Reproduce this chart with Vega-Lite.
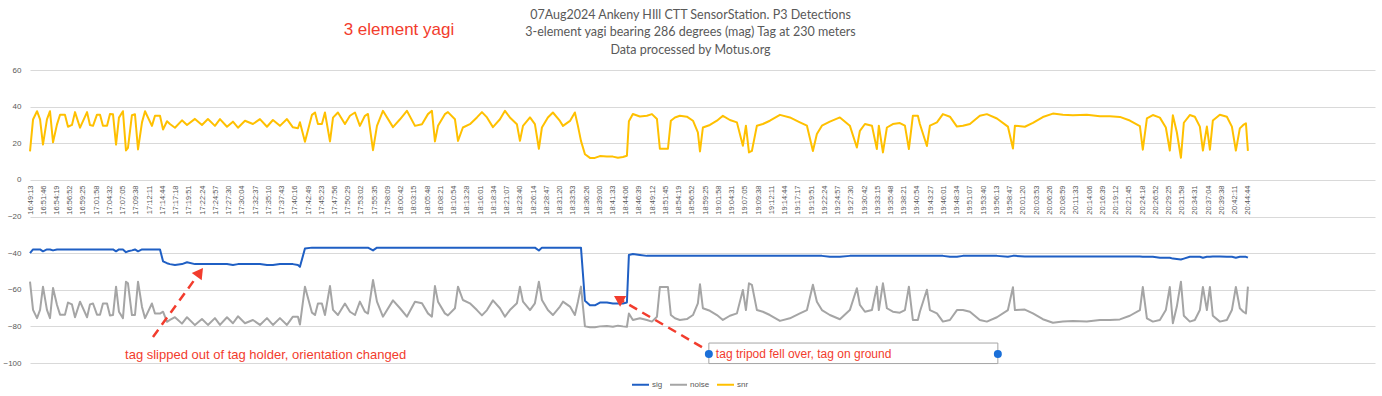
{
  "$schema": "https://vega.github.io/schema/vega-lite/v6.json",
  "width": 1345,
  "height": 293,
  "autosize": "none",
  "padding": {"left": 30, "top": 70, "right": 7, "bottom": 33},
  "background": "white",
  "title": {
    "text": ["07Aug2024 Ankeny HIll CTT SensorStation. P3 Detections", "3-element yagi bearing 286 degrees (mag) Tag at 230 meters", "Data processed by Motus.org"],
    "font": "Lato", "fontSize": 12.5, "fontWeight": "normal", "color": "#595959",
    "lineHeight": 17.5, "anchor": "middle", "frame": "group", "offset": 13, "dx": -12, "dy": 48
  },
  "config": {"view": {"stroke": null}},
  "datasets": {
    "det": [
      {"n":0,"sig":-40,"noise":-55.6,"snr":15.6},
      {"n":0.23,"sig":-38,"noise":-71,"snr":33},
      {"n":0.53,"sig":-38,"noise":-75.5,"snr":37.5},
      {"n":0.76,"sig":-38,"noise":-71,"snr":33},
      {"n":0.98,"sig":-39,"noise":-58.3,"snr":19.3},
      {"n":1.28,"sig":-38,"noise":-71,"snr":33},
      {"n":1.51,"sig":-38,"noise":-75.5,"snr":37.5},
      {"n":1.74,"sig":-38.5,"noise":-59,"snr":20.5},
      {"n":2.04,"sig":-38,"noise":-68.3,"snr":30.3},
      {"n":2.27,"sig":-38,"noise":-73.6,"snr":35.6},
      {"n":2.64,"sig":-38,"noise":-73.6,"snr":35.6},
      {"n":2.87,"sig":-38,"noise":-67,"snr":29},
      {"n":3.17,"sig":-38,"noise":-68,"snr":30},
      {"n":3.40,"sig":-38,"noise":-75,"snr":37},
      {"n":3.78,"sig":-38,"noise":-66.5,"snr":28.5},
      {"n":4.31,"sig":-38,"noise":-75,"snr":37},
      {"n":4.53,"sig":-38,"noise":-68,"snr":30},
      {"n":4.76,"sig":-38,"noise":-67.5,"snr":29.5},
      {"n":5.06,"sig":-38,"noise":-73.6,"snr":35.6},
      {"n":5.29,"sig":-38,"noise":-73.6,"snr":35.6},
      {"n":5.51,"sig":-38,"noise":-67.5,"snr":29.5},
      {"n":5.82,"sig":-38,"noise":-67.5,"snr":29.5},
      {"n":6.04,"sig":-38,"noise":-74,"snr":36},
      {"n":6.27,"sig":-38,"noise":-73.8,"snr":35.8},
      {"n":6.50,"sig":-39,"noise":-58.3,"snr":19.3},
      {"n":6.72,"sig":-38,"noise":-72,"snr":34},
      {"n":7.02,"sig":-38,"noise":-75.5,"snr":37.5},
      {"n":7.25,"sig":-39.5,"noise":-55.6,"snr":16.1},
      {"n":7.40,"sig":-39,"noise":-56.5,"snr":17.5},
      {"n":7.70,"sig":-38.5,"noise":-73.8,"snr":35.3},
      {"n":7.93,"sig":-38,"noise":-73.8,"snr":35.8},
      {"n":8.16,"sig":-39,"noise":-55.6,"snr":16.6},
      {"n":8.46,"sig":-38,"noise":-69.4,"snr":31.4},
      {"n":8.69,"sig":-38,"noise":-75.5,"snr":37.5},
      {"n":9.21,"sig":-38,"noise":-67.5,"snr":29.5},
      {"n":9.44,"sig":-38,"noise":-73,"snr":35},
      {"n":9.82,"sig":-38,"noise":-73,"snr":35},
      {"n":10.05,"sig":-44.5,"noise":-72,"snr":27.5},
      {"n":10.35,"sig":-45.5,"noise":-77.5,"snr":32},
      {"n":10.57,"sig":-46,"noise":-76.5,"snr":30.5},
      {"n":10.95,"sig":-46.5,"noise":-75,"snr":28.5},
      {"n":11.48,"sig":-46,"noise":-78.5,"snr":32.5},
      {"n":11.86,"sig":-45,"noise":-75,"snr":30},
      {"n":12.46,"sig":-46,"noise":-79.3,"snr":33.3},
      {"n":12.99,"sig":-46,"noise":-76,"snr":30},
      {"n":13.44,"sig":-46,"noise":-79.2,"snr":33.2},
      {"n":13.97,"sig":-46,"noise":-75.5,"snr":29.5},
      {"n":14.35,"sig":-46,"noise":-79.2,"snr":33.2},
      {"n":14.88,"sig":-46,"noise":-75,"snr":29},
      {"n":15.33,"sig":-46.5,"noise":-78.3,"snr":31.8},
      {"n":15.71,"sig":-46,"noise":-74.5,"snr":28.5},
      {"n":16.24,"sig":-46,"noise":-78.3,"snr":32.3},
      {"n":16.84,"sig":-46,"noise":-76.5,"snr":30.5},
      {"n":17.37,"sig":-46,"noise":-79.2,"snr":33.2},
      {"n":17.90,"sig":-46.5,"noise":-75.5,"snr":29},
      {"n":18.35,"sig":-46.5,"noise":-79.2,"snr":32.7},
      {"n":18.88,"sig":-46,"noise":-75.5,"snr":29.5},
      {"n":19.41,"sig":-46,"noise":-79.2,"snr":33.2},
      {"n":19.86,"sig":-46,"noise":-74.7,"snr":28.7},
      {"n":20.24,"sig":-46.5,"noise":-74.7,"snr":28.2},
      {"n":20.39,"sig":-47.5,"noise":-79,"snr":31.5},
      {"n":20.77,"sig":-37.5,"noise":-58.3,"snr":20.8},
      {"n":21.30,"sig":-37,"noise":-72.5,"snr":35.5},
      {"n":21.53,"sig":-37,"noise":-73.8,"snr":36.8},
      {"n":21.75,"sig":-37,"noise":-67.5,"snr":30.5},
      {"n":22.05,"sig":-37,"noise":-67.5,"snr":30.5},
      {"n":22.28,"sig":-37,"noise":-73.8,"snr":36.8},
      {"n":22.66,"sig":-37,"noise":-58,"snr":21},
      {"n":22.89,"sig":-37,"noise":-71,"snr":34},
      {"n":23.26,"sig":-37,"noise":-73.8,"snr":36.8},
      {"n":23.79,"sig":-37,"noise":-67.5,"snr":30.5},
      {"n":24.17,"sig":-37,"noise":-72,"snr":35},
      {"n":24.55,"sig":-37,"noise":-73.8,"snr":36.8},
      {"n":24.92,"sig":-37,"noise":-66.5,"snr":29.5},
      {"n":25.30,"sig":-37,"noise":-72,"snr":35},
      {"n":25.53,"sig":-37,"noise":-73,"snr":36},
      {"n":25.91,"sig":-38.5,"noise":-54.7,"snr":16.2},
      {"n":26.21,"sig":-37,"noise":-66.5,"snr":29.5},
      {"n":26.66,"sig":-37,"noise":-74.7,"snr":37.7},
      {"n":27.42,"sig":-37,"noise":-65.8,"snr":28.8},
      {"n":27.95,"sig":-37,"noise":-70.1,"snr":33.1},
      {"n":28.47,"sig":-37,"noise":-74.7,"snr":37.7},
      {"n":29.08,"sig":-37,"noise":-66.5,"snr":29.5},
      {"n":29.61,"sig":-37,"noise":-67.4,"snr":30.4},
      {"n":30.06,"sig":-37,"noise":-72.9,"snr":35.9},
      {"n":30.36,"sig":-37,"noise":-74.7,"snr":37.7},
      {"n":30.59,"sig":-37,"noise":-58,"snr":21},
      {"n":30.82,"sig":-37,"noise":-66.5,"snr":29.5},
      {"n":31.34,"sig":-37,"noise":-72.9,"snr":35.9},
      {"n":31.57,"sig":-37,"noise":-74,"snr":37},
      {"n":32.10,"sig":-37,"noise":-70.1,"snr":33.1},
      {"n":32.33,"sig":-37,"noise":-58.3,"snr":21.3},
      {"n":32.70,"sig":-37,"noise":-65.6,"snr":28.6},
      {"n":33.23,"sig":-37,"noise":-67.4,"snr":30.4},
      {"n":33.76,"sig":-37,"noise":-71.1,"snr":34.1},
      {"n":34.14,"sig":-37,"noise":-74,"snr":37},
      {"n":34.52,"sig":-37,"noise":-71.1,"snr":34.1},
      {"n":34.97,"sig":-37,"noise":-65.8,"snr":28.8},
      {"n":35.50,"sig":-37,"noise":-70.1,"snr":33.1},
      {"n":35.88,"sig":-37,"noise":-74.7,"snr":37.7},
      {"n":36.25,"sig":-37,"noise":-71.1,"snr":34.1},
      {"n":36.78,"sig":-37,"noise":-67.4,"snr":30.4},
      {"n":37.01,"sig":-37,"noise":-58.3,"snr":21.3},
      {"n":37.24,"sig":-37,"noise":-66.5,"snr":29.5},
      {"n":37.77,"sig":-37,"noise":-71.1,"snr":34.1},
      {"n":38.14,"sig":-37,"noise":-67.4,"snr":30.4},
      {"n":38.44,"sig":-38.6,"noise":-55.6,"snr":17},
      {"n":38.67,"sig":-37,"noise":-65.6,"snr":28.6},
      {"n":39.12,"sig":-37,"noise":-71.1,"snr":34.1},
      {"n":39.50,"sig":-37,"noise":-73.8,"snr":36.8},
      {"n":40.03,"sig":-37,"noise":-69.2,"snr":32.2},
      {"n":40.26,"sig":-37,"noise":-66.5,"snr":29.5},
      {"n":40.79,"sig":-37,"noise":-69.2,"snr":32.2},
      {"n":41.16,"sig":-37,"noise":-73.8,"snr":36.8},
      {"n":41.39,"sig":-37,"noise":-66.5,"snr":29.5},
      {"n":41.62,"sig":-37,"noise":-58.3,"snr":21.3},
      {"n":41.92,"sig":-66,"noise":-80,"snr":14},
      {"n":42.30,"sig":-68.5,"noise":-80.5,"snr":12},
      {"n":42.67,"sig":-68.5,"noise":-80.5,"snr":12},
      {"n":43.05,"sig":-67,"noise":-80,"snr":13},
      {"n":43.58,"sig":-67,"noise":-79.8,"snr":12.8},
      {"n":44.03,"sig":-67.5,"noise":-80.2,"snr":12.7},
      {"n":44.41,"sig":-67.5,"noise":-79.6,"snr":12.1},
      {"n":44.79,"sig":-67.5,"noise":-80,"snr":12.5},
      {"n":45.09,"sig":-67,"noise":-80.2,"snr":13.2},
      {"n":45.24,"sig":-41,"noise":-73,"snr":32},
      {"n":45.54,"sig":-40.5,"noise":-76.5,"snr":36},
      {"n":46.07,"sig":-41,"noise":-75.6,"snr":34.6},
      {"n":46.60,"sig":-41.5,"noise":-76.5,"snr":35},
      {"n":46.98,"sig":-41.5,"noise":-77.4,"snr":35.9},
      {"n":47.36,"sig":-41.5,"noise":-74.7,"snr":33.2},
      {"n":47.58,"sig":-41.5,"noise":-58.5,"snr":17},
      {"n":47.96,"sig":-41.5,"noise":-58.5,"snr":17},
      {"n":48.19,"sig":-41.5,"noise":-58.5,"snr":17},
      {"n":48.41,"sig":-41.5,"noise":-73.8,"snr":32.3},
      {"n":48.72,"sig":-41.5,"noise":-75.6,"snr":34.1},
      {"n":49.09,"sig":-41.5,"noise":-76.5,"snr":35},
      {"n":49.62,"sig":-41.5,"noise":-76,"snr":34.5},
      {"n":50.08,"sig":-41.5,"noise":-73.8,"snr":32.3},
      {"n":50.45,"sig":-41.5,"noise":-67.4,"snr":25.9},
      {"n":50.61,"sig":-41.5,"noise":-57,"snr":15.5},
      {"n":50.83,"sig":-41.5,"noise":-70.1,"snr":28.6},
      {"n":51.36,"sig":-41.5,"noise":-71.5,"snr":30},
      {"n":51.89,"sig":-41.5,"noise":-73.8,"snr":32.3},
      {"n":52.34,"sig":-41.5,"noise":-76.5,"snr":35},
      {"n":52.87,"sig":-41.5,"noise":-74.2,"snr":32.7},
      {"n":53.40,"sig":-41.5,"noise":-72.9,"snr":31.4},
      {"n":53.85,"sig":-41.5,"noise":-60.1,"snr":18.6},
      {"n":54.08,"sig":-41.5,"noise":-71.1,"snr":29.6},
      {"n":54.31,"sig":-41.5,"noise":-56.5,"snr":15},
      {"n":54.53,"sig":-41.5,"noise":-57.3,"snr":15.8},
      {"n":54.91,"sig":-41.5,"noise":-71.1,"snr":29.6},
      {"n":55.36,"sig":-41.5,"noise":-72,"snr":30.5},
      {"n":55.89,"sig":-41.5,"noise":-73.8,"snr":32.3},
      {"n":56.65,"sig":-41.5,"noise":-77,"snr":35.5},
      {"n":57.40,"sig":-41.5,"noise":-75.6,"snr":34.1},
      {"n":58.16,"sig":-41.5,"noise":-72.9,"snr":31.4},
      {"n":58.69,"sig":-41.5,"noise":-71.1,"snr":29.6},
      {"n":59.14,"sig":-41.5,"noise":-57.3,"snr":15.8},
      {"n":59.44,"sig":-41.5,"noise":-66.5,"snr":25},
      {"n":59.82,"sig":-41.5,"noise":-71.1,"snr":29.6},
      {"n":60.42,"sig":-42,"noise":-73.8,"snr":31.8},
      {"n":61.18,"sig":-42,"noise":-76.1,"snr":34.1},
      {"n":61.93,"sig":-41.5,"noise":-71.1,"snr":29.6},
      {"n":62.46,"sig":-41.5,"noise":-59.2,"snr":17.7},
      {"n":62.69,"sig":-41.5,"noise":-68.3,"snr":26.8},
      {"n":63.07,"sig":-41.5,"noise":-72,"snr":30.5},
      {"n":63.60,"sig":-41.5,"noise":-71.1,"snr":29.6},
      {"n":63.97,"sig":-41.5,"noise":-58.3,"snr":16.8},
      {"n":64.12,"sig":-41.5,"noise":-71.1,"snr":29.6},
      {"n":64.43,"sig":-41.5,"noise":-56.5,"snr":15},
      {"n":64.73,"sig":-41.5,"noise":-70.1,"snr":28.6},
      {"n":65.18,"sig":-41.5,"noise":-72,"snr":30.5},
      {"n":65.71,"sig":-41.5,"noise":-72.5,"snr":31},
      {"n":66.09,"sig":-41.5,"noise":-71.1,"snr":29.6},
      {"n":66.39,"sig":-41.5,"noise":-58.3,"snr":16.8},
      {"n":66.69,"sig":-41.5,"noise":-76.5,"snr":35},
      {"n":67.07,"sig":-41.5,"noise":-76.5,"snr":35},
      {"n":67.22,"sig":-41.5,"noise":-72,"snr":30.5},
      {"n":67.75,"sig":-41.5,"noise":-60,"snr":18.5},
      {"n":67.98,"sig":-41.5,"noise":-71.1,"snr":29.6},
      {"n":68.51,"sig":-41.5,"noise":-72.9,"snr":31.4},
      {"n":68.96,"sig":-41.5,"noise":-77.4,"snr":35.9},
      {"n":69.49,"sig":-42,"noise":-76.5,"snr":34.5},
      {"n":70.02,"sig":-42,"noise":-71.1,"snr":29.1},
      {"n":70.47,"sig":-41.5,"noise":-71.1,"snr":29.6},
      {"n":71.00,"sig":-41.5,"noise":-72,"snr":30.5},
      {"n":71.75,"sig":-41.5,"noise":-76.5,"snr":35},
      {"n":72.28,"sig":-41.5,"noise":-77.4,"snr":35.9},
      {"n":73.04,"sig":-41.5,"noise":-75,"snr":33.5},
      {"n":73.87,"sig":-42,"noise":-71.1,"snr":29.1},
      {"n":74.25,"sig":-41.5,"noise":-58.6,"snr":17.1},
      {"n":74.40,"sig":-41.5,"noise":-71.1,"snr":29.6},
      {"n":75.15,"sig":-41.8,"noise":-70.8,"snr":29},
      {"n":75.76,"sig":-41.8,"noise":-72.9,"snr":31.1},
      {"n":76.51,"sig":-41.8,"noise":-76.1,"snr":34.3},
      {"n":77.27,"sig":-41.8,"noise":-78,"snr":36.2},
      {"n":78.02,"sig":-41.8,"noise":-77.4,"snr":35.6},
      {"n":78.78,"sig":-41.8,"noise":-77.1,"snr":35.3},
      {"n":79.83,"sig":-41.8,"noise":-77.4,"snr":35.6},
      {"n":80.82,"sig":-41.8,"noise":-76.5,"snr":34.7},
      {"n":81.57,"sig":-41.8,"noise":-76.5,"snr":34.7},
      {"n":82.33,"sig":-41.8,"noise":-76.2,"snr":34.4},
      {"n":83.08,"sig":-41.8,"noise":-74.2,"snr":32.4},
      {"n":83.84,"sig":-41.8,"noise":-71.1,"snr":29.3},
      {"n":84.06,"sig":-42,"noise":-58.5,"snr":16.5},
      {"n":84.37,"sig":-42,"noise":-75.6,"snr":33.6},
      {"n":84.82,"sig":-42,"noise":-77.4,"snr":35.4},
      {"n":85.35,"sig":-42.5,"noise":-76.5,"snr":34},
      {"n":85.80,"sig":-42.5,"noise":-71.1,"snr":28.6},
      {"n":86.10,"sig":-42.5,"noise":-58.5,"snr":16},
      {"n":86.33,"sig":-43,"noise":-78.3,"snr":35.3},
      {"n":86.63,"sig":-43.2,"noise":-69.2,"snr":26},
      {"n":86.94,"sig":-43.5,"noise":-55.6,"snr":12.1},
      {"n":87.16,"sig":-43,"noise":-74.2,"snr":31.2},
      {"n":87.61,"sig":-42,"noise":-77.4,"snr":35.4},
      {"n":87.99,"sig":-42,"noise":-76.5,"snr":34.5},
      {"n":88.37,"sig":-42,"noise":-71.1,"snr":29.1},
      {"n":88.60,"sig":-42.5,"noise":-58.5,"snr":16},
      {"n":88.90,"sig":-42,"noise":-71.1,"snr":29.1},
      {"n":89.13,"sig":-42,"noise":-58.5,"snr":16.5},
      {"n":89.35,"sig":-41.8,"noise":-74.2,"snr":32.4},
      {"n":89.88,"sig":-41.8,"noise":-77.4,"snr":35.6},
      {"n":90.41,"sig":-42,"noise":-76.5,"snr":34.5},
      {"n":90.79,"sig":-42,"noise":-71.1,"snr":29.1},
      {"n":91.09,"sig":-42.5,"noise":-58.5,"snr":16},
      {"n":91.39,"sig":-42,"noise":-70.1,"snr":28.1},
      {"n":91.65,"sig":-42,"noise":-72,"snr":30},
      {"n":91.85,"sig":-42,"noise":-72.9,"snr":30.9},
      {"n":92,"sig":-42.5,"noise":-58.3,"snr":15.8}
    ],
    "box": [{"n":51.28,"n2":73.11,"value":-89.1,"value2":-100.3}],
    "arrows": [
      {"n":9.29,"value":-85.8,"n2":12.83,"value2":-50.5},
      {"n":50.76,"value":-91.3,"n2":44.46,"value2":-64.9}
    ],
    "dots": [{"n":51.28,"value":-95.1},{"n":73.11,"value":-95.1}],
    "note1": [{"n":7.18,"value":-95.6,"label":"tag slipped out of tag holder, orientation changed"}],
    "note2": [{"n":51.81,"value":-95.1,"label":"tag tripod fell over, tag on ground"}],
    "head1": [{"n":12.83,"value":-50.5}],
    "head2": [{"n":44.46,"value":-64.9}],
    "big": [{"n":27.87,"value":81.8,"label":"3 element yagi"}]
  },
  "encoding": {
    "x": {
      "field": "n", "type": "quantitative", "title": null,
      "scale": {"domain": [0, 101.6], "nice": false, "zero": false},
      "axis": {
        "orient": "bottom", "offset": -183, "title": null,
        "values": [0,1,2,3,4,5,6,7,8,9,10,11,12,13,14,15,16,17,18,19,20,21,22,23,24,25,26,27,28,29,30,31,32,33,34,35,36,37,38,39,40,41,42,43,44,45,46,47,48,49,50,51,52,53,54,55,56,57,58,59,60,61,62,63,64,65,66,67,68,69,70,71,72,73,74,75,76,77,78,79,80,81,82,83,84,85,86,87,88,89,90,91,92],
        "labelExpr": "['16:49:13','16:51:46','16:54:19','16:56:52','16:59:25','17:01:58','17:04:32','17:07:05','17:09:38','17:12:11','17:14:44','17:17:18','17:19:51','17:22:24','17:24:57','17:27:30','17:30:04','17:32:37','17:35:10','17:37:43','17:40:16','17:42:49','17:45:23','17:47:56','17:50:29','17:53:02','17:55:35','17:58:09','18:00:42','18:03:15','18:05:48','18:08:21','18:10:54','18:13:28','18:16:01','18:18:34','18:21:07','18:23:40','18:26:14','18:28:47','18:31:20','18:33:53','18:36:26','18:39:00','18:41:33','18:44:06','18:46:39','18:49:12','18:51:45','18:54:19','18:56:52','18:59:25','19:01:58','19:04:31','19:07:05','19:09:38','19:12:11','19:14:44','19:17:17','19:19:51','19:22:24','19:24:57','19:27:30','19:30:42','19:33:15','19:35:48','19:38:21','19:40:54','19:43:27','19:46:01','19:48:34','19:51:07','19:53:40','19:56:13','19:58:47','20:01:20','20:03:53','20:06:26','20:08:59','20:11:33','20:14:06','20:16:39','20:19:12','20:21:45','20:24:18','20:26:52','20:29:25','20:31:58','20:34:31','20:37:04','20:39:38','20:42:11','20:44:44'][datum.value]",
        "labelAngle": -90, "labelFontSize": 7.5, "labelFont": "Liberation Sans", "labelColor": "#595959",
        "labelPadding": 5, "ticks": false, "tickSize": 0, "domain": false, "grid": false,
        "labelOverlap": false, "labelBound": false, "labelFlush": false
      }
    },
    "y": {
      "field": "value", "type": "quantitative", "title": null,
      "scale": {"domain": [-100, 60], "nice": false, "zero": false},
      "axis": {
        "title": null, "values": [-100,-80,-60,-40,-20,0,20,40,60],
        "labelFontSize": 8, "labelFont": "Liberation Sans", "labelColor": "#595959",
        "labelPadding": 9, "ticks": false, "tickSize": 0, "domain": false,
        "labelOverlap": false,
        "grid": true, "gridColor": "#d9d9d9", "gridWidth": 1
      }
    }
  },
  "layer": [
    {
      "data": {"name": "det"},
      "transform": [{"fold": ["sig", "noise", "snr"], "as": ["series", "value"]}],
      "mark": {"type": "line", "strokeWidth": 2, "strokeJoin": "round"},
      "encoding": {
        "color": {
          "field": "series", "type": "nominal",
          "scale": {"domain": ["sig", "noise", "snr"], "range": ["#1f5fc4", "#a5a5a5", "#ffc000"]},
          "legend": {
            "orient": "none", "legendX": 601, "legendY": 305, "direction": "horizontal", "title": null,
            "symbolType": "stroke", "symbolSize": 289, "symbolStrokeWidth": 2,
            "labelFontSize": 8, "labelFont": "Liberation Sans", "labelColor": "#595959",
            "labelOffset": 2, "columnPadding": 3, "padding": 0
          }
        }
      }
    },
    {
      "data": {"name": "box"},
      "mark": {"type": "rect", "fill": "white", "stroke": "#a6a6a6", "strokeWidth": 1},
      "encoding": {
        "x2": {"field": "n2"},
        "y2": {"field": "value2"}
      }
    },
    {
      "data": {"name": "arrows"},
      "mark": {"type": "rule", "color": "#f23c2d", "strokeWidth": 2.5, "strokeDash": [9, 6]},
      "encoding": {
        "x2": {"field": "n2"},
        "y2": {"field": "value2"}
      }
    },
    {
      "data": {"name": "head1"},
      "mark": {"type": "point", "shape": "triangle-up", "angle": 36, "size": 150, "filled": true, "color": "#f23c2d", "opacity": 1}
    },
    {
      "data": {"name": "head2"},
      "mark": {"type": "point", "shape": "triangle-up", "angle": 300, "size": 150, "filled": true, "color": "#f23c2d", "opacity": 1}
    },
    {
      "data": {"name": "dots"},
      "mark": {"type": "point", "shape": "circle", "size": 64, "filled": true, "color": "#1a6fd8", "opacity": 1}
    },
    {
      "data": {"name": "note1"},
      "mark": {"type": "text", "align": "left", "baseline": "middle", "font": "Liberation Sans", "fontSize": 13, "color": "#f23c2d"},
      "encoding": {
        "text": {"field": "label", "type": "nominal"}
      }
    },
    {
      "data": {"name": "note2"},
      "mark": {"type": "text", "align": "left", "baseline": "middle", "font": "Liberation Sans", "fontSize": 12, "color": "#f23c2d"},
      "encoding": {
        "text": {"field": "label", "type": "nominal"}
      }
    },
    {
      "data": {"name": "big"},
      "mark": {"type": "text", "align": "center", "baseline": "middle", "font": "Liberation Sans", "fontSize": 17, "color": "#f23c2d"},
      "encoding": {
        "text": {"field": "label", "type": "nominal"}
      }
    }
  ]
}
